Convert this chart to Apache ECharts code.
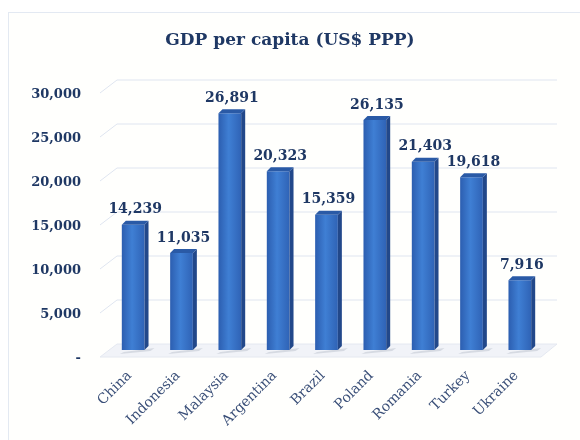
<!DOCTYPE html>
<html>
<head>
<meta charset="utf-8">
<script src="https://cdn.jsdelivr.net/npm/echarts@6/dist/echarts.min.js"></script>
<style>
  html, body { margin: 0; padding: 0; background: #ffffff; }
  #frame { position: absolute; left: 8px; top: 12px; width: 590px; height: 440px;
           border: 1px solid #e3e9f2; background: #fffffd; box-sizing: border-box; }
  #chart { position: absolute; left: 0; top: 0; width: 580px; height: 440px; }
</style>
</head>
<body>
<div id="frame"></div>
<div id="chart"></div>
<script>
// GDP per capita, PPP (US$)
const countries = ['China', 'Indonesia', 'Malaysia', 'Argentina', 'Brazil', 'Poland', 'Romania', 'Turkey', 'Ukraine'];
const gdpPerCapita = [14239, 11035, 26891, 20323, 15359, 26135, 21403, 19618, 7916];
const yTicks = [0, 5000, 10000, 15000, 20000, 25000, 30000];

const NAVY = '#1f3864';
const SERIF = '"DejaVu Serif", "Liberation Serif", serif';
const DEPTH = 4;

const chart = echarts.init(document.getElementById('chart'), null, { renderer: 'canvas' });

// wall gridlines with a short slanted segment on the left side wall
function renderGrid(params, api) {
  const cs = params.coordSys;
  const y = api.coord([0, api.value(1)])[1];
  const left = cs.x, right = cs.x + cs.width;
  const isFloor = api.value(1) === 0;
  const children = [];
  if (isFloor) {
    children.push({
      type: 'polygon',
      shape: { points: [[left - 9, y + 7], [left + 8, y - 6], [right + 13, y - 6], [right - 3, y + 7]] },
      style: { fill: '#f1f3f8', stroke: '#e4e8f0', lineWidth: 1 }
    });
  } else {
    children.push({
      type: 'polyline',
      shape: { points: [[left - 9, y + 7], [left + 8, y - 6], [right + 13, y - 6]] },
      style: { stroke: '#dfe5f0', lineWidth: 1, fill: null }
    });
  }
  return { type: 'group', children: children, silent: true };
}

// bars with a front face, right side face and top cap, plus the value label
function renderBar(params, api) {
  const idx = api.value(0);
  const val = api.value(1);
  const top = api.coord([idx, val]);
  const base = api.coord([idx, 0]);
  const w = api.size([1, 0])[0] * 0.47;
  const x0 = top[0] - w / 2, x1 = top[0] + w / 2;
  const yt = top[1], yb = base[1];
  const d = DEPTH;
  return {
    type: 'group',
    children: [
      {
        type: 'polygon',
        shape: { points: [[x0 + 2, yb + 2], [x1 + d + 6, yb - d + 2], [x1 + d + 2, yb - d + 5], [x0 - 2, yb + 4]] },
        style: { fill: 'rgba(120,130,150,0.22)' }
      },
      {
        type: 'rect',
        shape: { x: x0, y: yt, width: w, height: yb - yt },
        style: {
          fill: new echarts.graphic.LinearGradient(0, 0, 1, 0, [
            { offset: 0, color: '#2c5eb0' },
            { offset: 0.45, color: '#3f7fd4' },
            { offset: 1, color: '#2f63b6' }
          ])
        }
      },
      {
        type: 'polygon',
        shape: { points: [[x1, yt], [x1 + d, yt - d], [x1 + d, yb - d], [x1, yb]] },
        style: { fill: '#22488a' }
      },
      {
        type: 'polygon',
        shape: { points: [[x0, yt], [x0 + d, yt - d], [x1 + d, yt - d], [x1, yt]] },
        style: { fill: '#2a5aa6' }
      },
      {
        type: 'text',
        style: {
          x: top[0] + d / 2, y: yt - d - 4,
          text: val.toLocaleString('en-US'),
          fill: NAVY, font: 'bold 14px ' + SERIF,
          align: 'center', verticalAlign: 'bottom'
        }
      }
    ]
  };
}

chart.setOption({
  animation: false,
  backgroundColor: 'transparent',
  title: {
    text: 'GDP per capita (US$ PPP)',
    left: 'center', top: 27,
    textStyle: { color: NAVY, fontFamily: SERIF, fontWeight: 'bold', fontSize: 17 }
  },
  grid: { left: 109, right: 36, top: 86, bottom: 90 },
  xAxis: {
    type: 'category',
    data: countries,
    axisLine: { show: false },
    axisTick: { show: false },
    axisLabel: {
      rotate: 45, margin: 20, interval: 0,
      padding: [0, 5, 0, 0],
      color: '#3a4f78', fontFamily: SERIF, fontSize: 14
    }
  },
  yAxis: {
    type: 'value',
    min: 0, max: 30000, interval: 5000,
    axisLine: { show: false },
    axisTick: { show: false },
    splitLine: { show: false },
    axisLabel: {
      margin: 28,
      verticalAlign: 'top',
      padding: [2, 0, 0, 0],
      color: NAVY, fontFamily: SERIF, fontWeight: 'bold', fontSize: 13,
      formatter: v => v === 0 ? '-' : v.toLocaleString('en-US')
    }
  },
  series: [
    {
      type: 'custom',
      renderItem: renderGrid,
      data: yTicks.map(v => [0, v]),
      z: 1,
      silent: true
    },
    {
      type: 'custom',
      renderItem: renderBar,
      data: gdpPerCapita.map((v, i) => [i, v]),
      z: 3
    }
  ]
});
</script>
</body>
</html>
